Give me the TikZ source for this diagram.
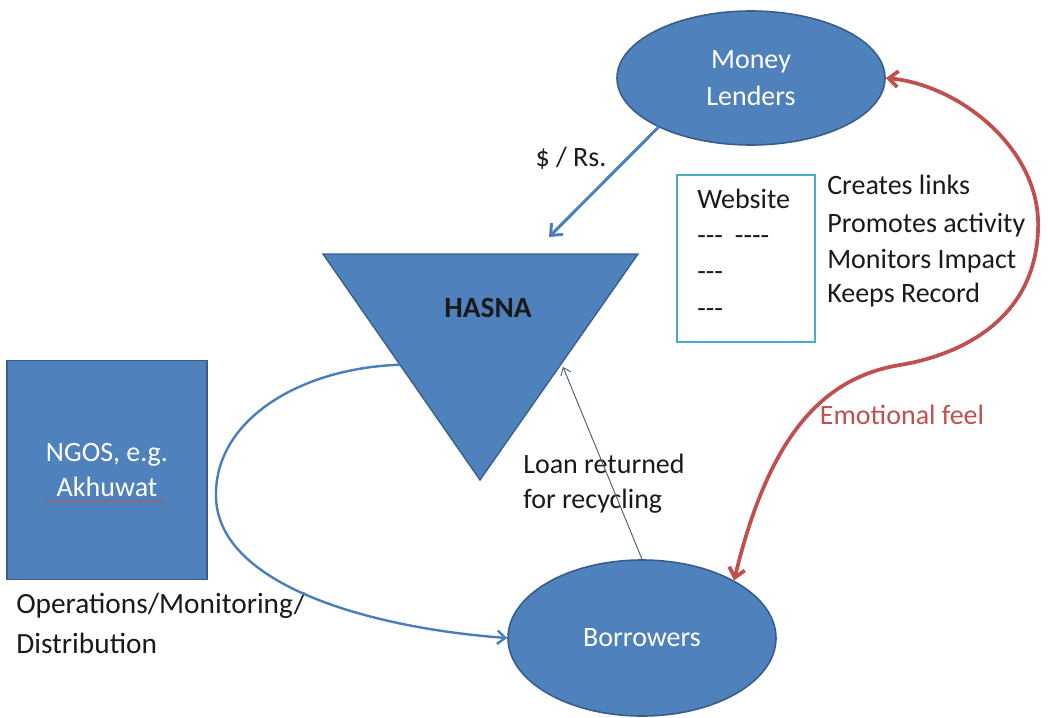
\documentclass[tikz,border=0pt]{standalone}
\usepackage{fontspec}
\setmainfont{Carlito}
\usetikzlibrary{arrows.meta,calc,decorations.pathmorphing,shapes.geometric}
\definecolor{boxblue}{HTML}{4F81BD}
\definecolor{edgeblue}{HTML}{385D8A}
\definecolor{arrowblue}{HTML}{4A7EBB}
\definecolor{webteal}{HTML}{4BACC6}
\definecolor{redc}{HTML}{C0504D}
\definecolor{thinc}{HTML}{4D5C73}
\definecolor{txtc}{HTML}{1A1A1A}
\begin{document}
\begin{tikzpicture}[x=0.75pt,y=-0.75pt,
  blob/.style={ellipse, draw=edgeblue, line width=1.2pt, fill=boxblue, text=white,
    inner sep=0pt, font=\fontsize{21}{28}\selectfont, align=center},
  lbl/.style={inner sep=0pt, text=txtc, font=\fontsize{21}{25}\selectfont,
    text height=14pt, text depth=5pt},
  bluearrow/.style={draw=arrowblue, line width=2.2pt,
    -{Straight Barb[length=7pt,width=12pt]}},
  looparrow/.style={draw=arrowblue, line width=1.8pt,
    -{Straight Barb[length=6pt,width=10pt]}},
  thinarrow/.style={draw=thinc, line width=0.7pt,
    -{Straight Barb[length=5pt,width=8pt]}},
  redarrow/.style={draw=redc, line width=2.8pt,
    {Straight Barb[length=7pt,width=12pt]}-{Straight Barb[length=7pt,width=12pt]}}
]
\useasboundingbox (0,0) rectangle (1048,717);

% Money Lenders
\node[blob, minimum width=201pt, minimum height=100.5pt] (money) at (751,78) {Money\\Lenders};

% Borrowers
\node[blob, minimum width=201pt, minimum height=117pt] (borrowers) at (642,638) {Borrowers};

% NGOS box
\node[draw=edgeblue, line width=1pt, fill=boxblue, text=white, inner sep=0pt,
  minimum width=150pt, minimum height=164pt, align=center,
  font=\fontsize{21}{26}\selectfont] (ngos) at (107,470) {NGOS, e.g.\\Akhuwat};
\draw[redc, line width=0.5pt, decorate,
  decoration={snake, amplitude=0.8pt, segment length=3pt}] (45,501) -- (165,501);

% HASNA triangle
\coordinate (tl) at (323,254);
\coordinate (tr) at (638,254);
\coordinate (tb) at (480,480);
\filldraw[fill=boxblue, draw=edgeblue, line width=1pt] (tl) -- (tr) -- (tb) -- cycle;
\node[inner sep=0pt, text=txtc, font=\fontsize{22}{26}\selectfont\bfseries] (hasna) at (488,308) {HASNA};
\coordinate (htop) at (549,237);
\coordinate (hleft) at ($(tl)!0.49!(tb)$);
\coordinate (hright) at ($(tr)!0.5!(tb)+(4,0)$);

% Website box
\node[draw=webteal, line width=1.5pt, minimum width=103.5pt, minimum height=125pt,
  inner sep=0pt] (web) at (746,258.5) {};
\node[lbl, anchor=west] (w1) at (697,202) {Website};
\node[lbl, anchor=west] (w2) at (697,238) {-{}-{}-\hspace{9pt}-{}-{}-{}-};
\node[lbl, anchor=west] (w3) at (697,274) {-{}-{}-};
\node[lbl, anchor=west] (w4) at (697,311) {-{}-{}-};

% Right list
\node[lbl, anchor=west] (r1) at (827,188) {Creates links};
\node[lbl, anchor=west] (r2) at (827,226) {Promotes activity};
\node[lbl, anchor=west] (r3) at (827,262) {Monitors Impact};
\node[lbl, anchor=west] (r4) at (827,296) {Keeps Record};

% Other labels
\node[lbl] (rs) at (571,160) {\$ / Rs.};
\node[lbl, anchor=west] (loan1) at (523,467) {Loan returned};
\node[lbl, anchor=west] (loan2) at (523,502) {for recycling};
\node[lbl, anchor=west, font=\fontsize{22}{26}\selectfont] (ops1) at (16,607) {Operations/Monitoring/};
\node[lbl, anchor=west, font=\fontsize{22}{26}\selectfont] (ops2) at (16,647) {Distribution};
\node[lbl, text=redc] (emo) at (902,418) {Emotional feel};

% Connectors
\draw[bluearrow] (money.208) -- (htop);
\draw[thinarrow] (borrowers.north) -- (hright);
\draw[looparrow] (hleft) .. controls (300,368) and (214,420) .. (216,497)
  .. controls (218,585) and (370,628) .. (borrowers.west);
\draw[redarrow] (money.east) .. controls (960,85) and (1042,150) .. (1038,230)
  .. controls (1035,320) and (960,355) .. (900,365)
  .. controls (820,378) and (768,440) .. (borrowers.32);
\end{tikzpicture}
\end{document}
